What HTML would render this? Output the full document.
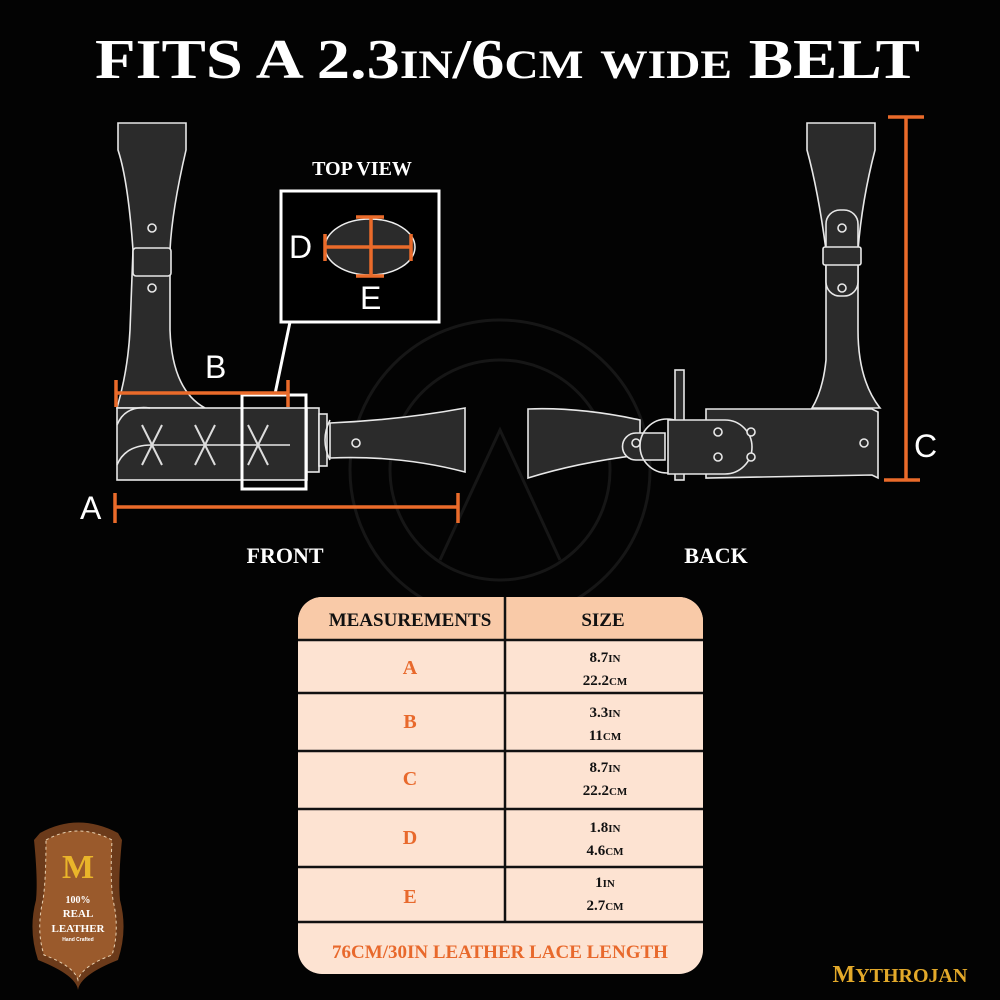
<!DOCTYPE html>
<html><head><meta charset="utf-8"><style>
body{margin:0;background:#000;}
svg{display:block}
.t{font-family:"Liberation Serif",serif;font-weight:bold}
.s{font-family:"Liberation Sans",sans-serif}
</style></head><body>
<svg width="1000" height="1000" viewBox="0 0 1000 1000" xmlns="http://www.w3.org/2000/svg">
<rect width="1000" height="1000" fill="#030303"/>
<!-- faint watermark -->
<g fill="none" stroke="#161616" stroke-width="3">
<circle cx="500" cy="470" r="150"/><circle cx="500" cy="470" r="110"/>
<path d="M440 560 L500 430 L560 560"/>
</g>
<text x="95" y="78" textLength="825" lengthAdjust="spacingAndGlyphs" class="t" font-size="56" fill="#fff">FITS A 2.3<tspan font-size="40">IN</tspan>/6<tspan font-size="40">CM</tspan> <tspan font-size="40">WIDE</tspan> BELT</text>

<g stroke="#e8e8e8" stroke-width="1.6" fill="#2b2b2b">
<!-- FRONT -->
<path d="M118 123 H186 L186 150 Q172 210 170 250 L170 330 Q172 390 205 408 L117 408 Q128 370 130 330 L133 250 Q128 180 118 150 Z"/>
<rect x="133" y="248" width="38" height="28" rx="3"/>
<circle cx="152" cy="228" r="4"/><circle cx="152" cy="288" r="4"/>
<rect x="117" y="408" width="190" height="72"/>
<path d="M117 425 Q125 405 150 408 M117 465 Q125 445 152 445 L290 445" fill="none"/>
<rect x="307" y="408" width="12" height="64"/>
<rect x="319" y="414" width="8" height="52"/>
<path d="M330 420 Q320 440 330 460" fill="none"/>
<path d="M330 423 Q400 420 465 408 L465 472 Q400 455 330 458 Z"/>
<circle cx="356" cy="443" r="4"/>
</g>
<g stroke="#ddd" stroke-width="2" fill="none">
<path d="M142 425 L162 465 M162 425 L142 465 M195 425 L215 465 M215 425 L195 465 M248 425 L268 465 M268 425 L248 465"/>
</g>
<rect x="242" y="395" width="64" height="94" fill="none" stroke="#fff" stroke-width="3"/>
<line x1="290" y1="322" x2="275" y2="394" stroke="#fff" stroke-width="3"/>
<rect x="281" y="191" width="158" height="131" fill="#000" stroke="#fff" stroke-width="3"/>
<ellipse cx="370" cy="247" rx="45" ry="28" fill="#2b2b2b" stroke="#eee" stroke-width="1.5"/>
<g stroke="#ea6b2a" stroke-width="3.5">
<line x1="325" y1="247" x2="411" y2="247"/><line x1="325" y1="234" x2="325" y2="261"/><line x1="411" y1="234" x2="411" y2="261"/>
<line x1="371" y1="217" x2="371" y2="276"/><line x1="356" y1="217" x2="384" y2="217"/><line x1="356" y1="276" x2="384" y2="276"/>
<line x1="116" y1="393" x2="288" y2="393"/><line x1="116" y1="380" x2="116" y2="407"/><line x1="288" y1="380" x2="288" y2="407"/>
<line x1="115" y1="507" x2="458" y2="507"/><line x1="115" y1="493" x2="115" y2="523"/><line x1="458" y1="493" x2="458" y2="523"/>
<line x1="906" y1="117" x2="906" y2="480"/><line x1="888" y1="117" x2="924" y2="117"/><line x1="884" y1="480" x2="920" y2="480"/>
</g>
<g class="s" fill="#fff" font-size="32">
<text x="289" y="258">D</text><text x="360" y="309">E</text><text x="205" y="378">B</text><text x="80" y="519">A</text><text x="914" y="457">C</text>
</g>
<text x="362" y="175" text-anchor="middle" class="t" font-size="20" fill="#fff">TOP VIEW</text>
<text x="285" y="563" text-anchor="middle" class="t" font-size="22" fill="#fff">FRONT</text>
<text x="716" y="563" text-anchor="middle" class="t" font-size="22" fill="#fff">BACK</text>

<!-- BACK -->
<g stroke="#e8e8e8" stroke-width="1.6" fill="#2b2b2b">
<path d="M807 123 H875 L875 150 Q862 200 858 250 L858 330 Q858 380 880 408 L812 408 Q823 390 826 360 L826 250 Q818 190 807 150 Z"/>
<rect x="826" y="210" width="32" height="86" rx="14"/>
<rect x="823" y="247" width="38" height="18" rx="2"/>
<circle cx="842" cy="228" r="4"/><circle cx="842" cy="288" r="4"/>
<path d="M706 409 H872 L878 412 L878 478 L872 475 L706 478 Z"/>
<path d="M528 409 Q580 407 640 420 L640 455 Q580 462 528 478 Z"/>
<rect x="675" y="370" width="9" height="110"/>
<path d="M636 433 H665 V460 H636 A13 13 0 0 1 636 433 Z"/>
<circle cx="667" cy="446" r="27" fill="none"/>
<path d="M668 420 H725 A27 27 0 0 1 725 474 H668 Z"/>
<circle cx="636" cy="443" r="4"/>
<circle cx="718" cy="432" r="4"/><circle cx="718" cy="457" r="4"/><circle cx="751" cy="432" r="4"/><circle cx="751" cy="457" r="4"/><circle cx="864" cy="443" r="4"/>
</g>

<!-- TABLE -->
<clipPath id="c"><rect x="298" y="597" width="405" height="377" rx="24"/></clipPath>
<g clip-path="url(#c)">
<rect x="298" y="597" width="405" height="377" fill="#fde3d2"/>
<rect x="298" y="597" width="405" height="43" fill="#f9caa8"/>
</g>
<g stroke="#111" stroke-width="2.5">
<line x1="505" y1="597" x2="505" y2="922"/>
<line x1="298" y1="640" x2="703" y2="640"/><line x1="298" y1="693" x2="703" y2="693"/><line x1="298" y1="751" x2="703" y2="751"/>
<line x1="298" y1="809" x2="703" y2="809"/><line x1="298" y1="867" x2="703" y2="867"/><line x1="298" y1="922" x2="703" y2="922"/>
</g>
<g class="t" text-anchor="middle">
<text x="410" y="626" font-size="19" fill="#111">MEASUREMENTS</text>
<text x="603" y="626" font-size="19" fill="#111">SIZE</text>
<g fill="#e8692c" font-size="20"><text x="410" y="674">A</text><text x="410" y="728">B</text><text x="410" y="785">C</text><text x="410" y="844">D</text><text x="410" y="903">E</text></g>
<g fill="#111" font-size="15">
<text x="605" y="662">8.7<tspan font-size="11">IN</tspan></text><text x="605" y="685">22.2<tspan font-size="11">CM</tspan></text>
<text x="605" y="717">3.3<tspan font-size="11">IN</tspan></text><text x="605" y="740">11<tspan font-size="11">CM</tspan></text>
<text x="605" y="772">8.7<tspan font-size="11">IN</tspan></text><text x="605" y="795">22.2<tspan font-size="11">CM</tspan></text>
<text x="605" y="832">1.8<tspan font-size="11">IN</tspan></text><text x="605" y="855">4.6<tspan font-size="11">CM</tspan></text>
<text x="605" y="887">1<tspan font-size="11">IN</tspan></text><text x="605" y="910">2.7<tspan font-size="11">CM</tspan></text>
</g>
<text x="500" y="958" font-size="19" fill="#e8692c">76CM/30IN LEATHER LACE LENGTH</text>
</g>

<!-- leather badge -->
<path d="M40 833 Q78 812 118 833 L122 840 Q118 880 120 900 Q128 930 118 960 Q80 975 78 990 Q76 975 38 960 Q28 930 36 900 Q38 880 34 840 Z" fill="#6b3a1a"/>
<path d="M46 840 Q78 822 112 840 Q110 880 113 900 Q120 930 112 955 Q82 966 78 980 Q74 966 44 955 Q36 930 43 900 Q46 880 46 840 Z" fill="#9a5a2c" stroke="#e8d0b0" stroke-width="1" stroke-dasharray="3 3"/>
<text x="78" y="878" text-anchor="middle" font-family="Liberation Serif,serif" font-weight="bold" font-size="34" fill="#e9b52a">M</text>
<g class="t" fill="#fff" text-anchor="middle"><text x="78" y="903" font-size="10">100%</text><text x="78" y="917" font-size="11">REAL</text><text x="78" y="932" font-size="11">LEATHER</text><text x="78" y="941" font-size="5" class="s">Hand Crafted</text></g>

<text x="900" y="982" text-anchor="middle" class="t" font-size="24" fill="#e3a92a">M<tspan font-size="20">YTHROJAN</tspan></text>
</svg>
</body></html>
